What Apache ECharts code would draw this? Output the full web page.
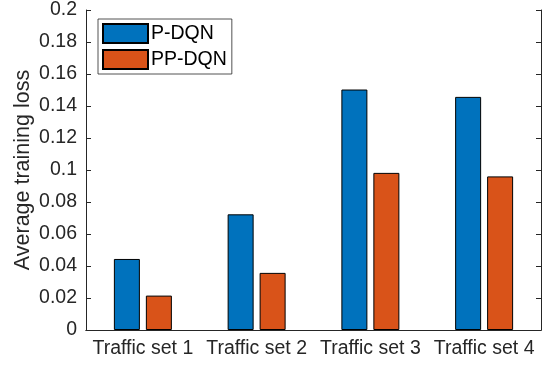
<!DOCTYPE html>
<html>
<head>
<meta charset="utf-8">
<script src="https://cdn.jsdelivr.net/npm/echarts@6/dist/echarts.min.js"></script>
<style>
html,body{margin:0;padding:0;background:#fff;}
#chart{width:545px;height:366px;}
</style>
</head>
<body>
<div id="chart"></div>
<script>
const categories = ['Traffic set 1', 'Traffic set 2', 'Traffic set 3', 'Traffic set 4'];
const pdqn = [0.0444, 0.0723, 0.1503, 0.1457];
const ppdqn = [0.0215, 0.0357, 0.0982, 0.0960];
const yTickLabels = ['0', '0.02', '0.04', '0.06', '0.08', '0.1', '0.12', '0.14', '0.16', '0.18', '0.2'];

const FONT = "'Liberation Sans', Arial, Helvetica, sans-serif";
const AX = '#262626';
const chart = echarts.init(document.getElementById('chart'), null, {renderer: 'canvas'});
chart.setOption({
  animation: false,
  backgroundColor: '#fff',
  textStyle: {fontFamily: FONT},
  grid: {left: 86, right: 4, top: 7, bottom: 36, containLabel: false},
  legend: {
    orient: 'vertical', left: 98, top: 19,
    padding: [4, 5, 4, 4], itemGap: 5,
    itemWidth: 45, itemHeight: 19, icon: 'rect',
    borderColor: AX, borderWidth: 0.8, backgroundColor: '#fff',
    textStyle: {fontSize: 19.5, color: '#000', fontFamily: FONT, padding: [0,0,0,-2]},
    data: ['P-DQN', 'PP-DQN']
  },
  xAxis: [{
    type: 'category', data: categories, position: 'bottom',
    axisLine: {lineStyle: {color: AX, width: 1}},
    axisTick: {inside: true, alignWithLabel: true, length: 5, lineStyle: {color: AX}},
    axisLabel: {fontSize: 19.5, color: AX, margin: 9, fontFamily: FONT, interval: 0}
  }, {
    type: 'category', data: categories, position: 'top',
    axisLine: {lineStyle: {color: AX, width: 1}},
    axisTick: {inside: true, alignWithLabel: true, length: 5, lineStyle: {color: AX}},
    axisLabel: {show: false}
  }],
  yAxis: [{
    type: 'value', min: 0, max: 0.2, interval: 0.02,
    name: 'Average training loss', nameLocation: 'middle', nameGap: 52,
    nameMoveOverlap: false,
    nameTextStyle: {fontSize: 21.5, color: AX, fontFamily: FONT},
    axisLine: {show: true, lineStyle: {color: AX, width: 1}},
    axisTick: {show: true, inside: true, length: 5, lineStyle: {color: AX}},
    splitLine: {show: false},
    axisLabel: {fontSize: 19.5, color: AX, margin: 9, fontFamily: FONT,
      formatter: function (v) { return yTickLabels[Math.round(v / 0.02)]; }}
  }, {
    type: 'value', min: 0, max: 0.2, interval: 0.02, position: 'right',
    axisLine: {show: true, lineStyle: {color: AX, width: 1}},
    axisTick: {show: true, inside: true, length: 5, lineStyle: {color: AX}},
    splitLine: {show: false},
    axisLabel: {show: false}
  }],
  series: [{
    name: 'P-DQN', type: 'bar', data: pdqn, barWidth: 26, barGap: '23%',
    itemStyle: {color: '#0072BD', borderColor: '#000', borderWidth: 1}
  }, {
    name: 'PP-DQN', type: 'bar', data: ppdqn, barWidth: 26, barGap: '23%',
    itemStyle: {color: '#D95319', borderColor: '#000', borderWidth: 1}
  }]
});
</script>
</body>
</html>
